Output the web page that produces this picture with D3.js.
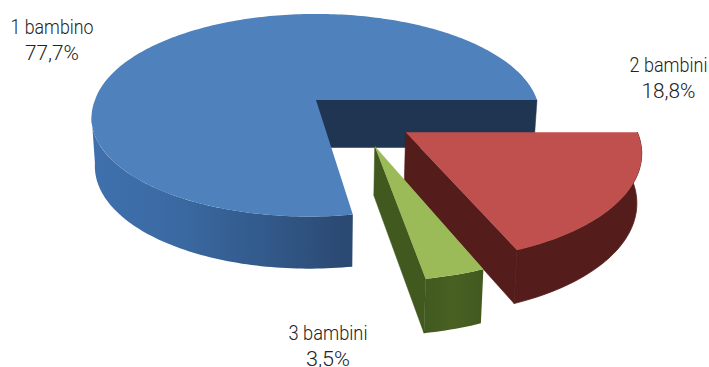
<!DOCTYPE html>
<html>
<head>
<meta charset="utf-8">
<script src="https://cdn.jsdelivr.net/npm/d3@7/dist/d3.min.js"></script>
<style>
  html, body { margin: 0; padding: 0; background: #fff; }
  text { font-family: Roboto, "Open Sans", sans-serif; font-weight: 300; font-size: 21px; fill: #222; }
</style>
</head>
<body>
<svg id="chart" width="709" height="367"></svg>
<script>
// Figli per nucleo familiare
const categories = ["1 bambino", "2 bambini", "3 bambini"];
const shares = [77.7, 18.8, 3.5];
const shareLabels = ["77,7%", "18,8%", "3,5%"];

// Pie geometry, in units of the pie radius before the tilt is applied
const firstSliceAngle = 170.3 * Math.PI / 180;
const exploded = [[0, 0], [0.395, 0.31], [0.26, 0.435]];

// Tilted-disc projection, leaning slightly to the left towards the viewer
const cx = 316, cy = 100, rx = 221, ry = 99, tilt = 0.15, lean = 0.06;
const depth = 47.5, depthPerspective = 0.6, baseShrink = 0.985;

function upperPoint([X, Y]) {
  const w = 1 - tilt * Y;
  const y = cy + ry * Y / w;
  return [cx + rx * X / w - lean * Math.max(0, y - cy), y];
}
function lowerPoint([X, Y]) {
  const [x, y] = upperPoint([X, Y]);
  const w = 1 - tilt * depthPerspective * Y;
  return [cx + (x - cx) * baseShrink, y + depth / w];
}

const palette = [
  { face: "#4f81bd", wall: "#1f3552", rim: "rimBlue", rimEdge: "none" },
  { face: "#c0504d", wall: "#541d1b", rim: "rimRed", rimEdge: "#541d1b" },
  { face: "#9bbb59", wall: "#41581f", rim: "rimGreen", rimEdge: "none" }
];

const arcs = d3.pie().sort(null).value(d => d)
  .startAngle(firstSliceAngle)
  .endAngle(firstSliceAngle + 2 * Math.PI)(shares);

const svg = d3.select("#chart");
const defs = svg.append("defs");

function gradient(id, x1, x2, stops) {
  const g = defs.append("linearGradient").attr("id", id)
    .attr("gradientUnits", "userSpaceOnUse")
    .attr("x1", x1).attr("x2", x2).attr("y1", 0).attr("y2", 0);
  stops.forEach(([o, c]) => g.append("stop").attr("offset", o).attr("stop-color", c));
}
gradient("rimBlue", 95, 353, [[0, "#3f70ad"], [0.3, "#3b6aa3"], [0.65, "#325a8b"], [1, "#2a4870"]]);
gradient("rimRed", 515, 640, [[0, "#541d1b"], [1, "#541d1b"]]);
gradient("rimGreen", 425, 482, [[0, "#425920"], [0.5, "#486122"], [1, "#425920"]]);

const line = d3.line();

function rimPoints(i, a0, a1, project) {
  const [ox, oy] = exploded[i];
  const n = Math.max(2, Math.ceil((a1 - a0) / 0.02));
  return d3.range(n + 1).map(k => {
    const a = a0 + (a1 - a0) * k / n;
    return project([ox + Math.sin(a), oy - Math.cos(a)]);
  });
}

// Paint back to front: blue, red, green
[0, 1, 2].forEach(i => {
  const d = arcs[i], [ox, oy] = exploded[i];
  const apex = [ox, oy];
  const colours = palette[i];
  const g = svg.append("g").attr("class", "slice").attr("data-category", categories[i]);

  // Outer rim: the big slice stops at the widest point of its outline
  const rimEnd = i === 0 ? 1.5 * Math.PI - 0.15 : d.endAngle;
  const upper = rimPoints(i, d.startAngle, rimEnd, upperPoint);
  const lower = rimPoints(i, d.startAngle, rimEnd, lowerPoint).reverse();
  g.append("path").attr("d", line(upper.concat(lower)) + "Z")
    .attr("fill", `url(#${colours.rim})`)
    .attr("stroke", colours.rimEdge).attr("stroke-width", 0.8);

  // Cut face along the closing edge of the slice
  const edge = [ox + Math.sin(d.endAngle), oy - Math.cos(d.endAngle)];
  g.append("path")
    .attr("d", line([upperPoint(apex), upperPoint(edge), lowerPoint(edge), lowerPoint(apex)]) + "Z")
    .attr("fill", colours.wall)
    .attr("stroke", colours.wall).attr("stroke-width", 0.5);

  // Top face
  const face = [upperPoint(apex)].concat(rimPoints(i, d.startAngle, d.endAngle, upperPoint));
  g.append("path").attr("d", line(face) + "Z").attr("fill", colours.face);
});

// Slice labels, condensed horizontally to their set widths
const labelPlaces = [
  { x: 52, y: [34, 60], w: [83, 54] },
  { x: 668.5, y: [72, 98], w: [78, 54] },
  { x: 328, y: [340, 366], w: [79, 44] }
];
categories.forEach((name, i) => {
  const p = labelPlaces[i];
  [name, shareLabels[i]].forEach((t, k) => {
    const label = svg.append("text").attr("text-anchor", "middle").text(t);
    const squeeze = p.w[k] / label.node().getComputedTextLength();
    label.attr("transform", `translate(${p.x},${p.y[k]}) scale(${squeeze},1)`);
  });
});
</script>
</body>
</html>
